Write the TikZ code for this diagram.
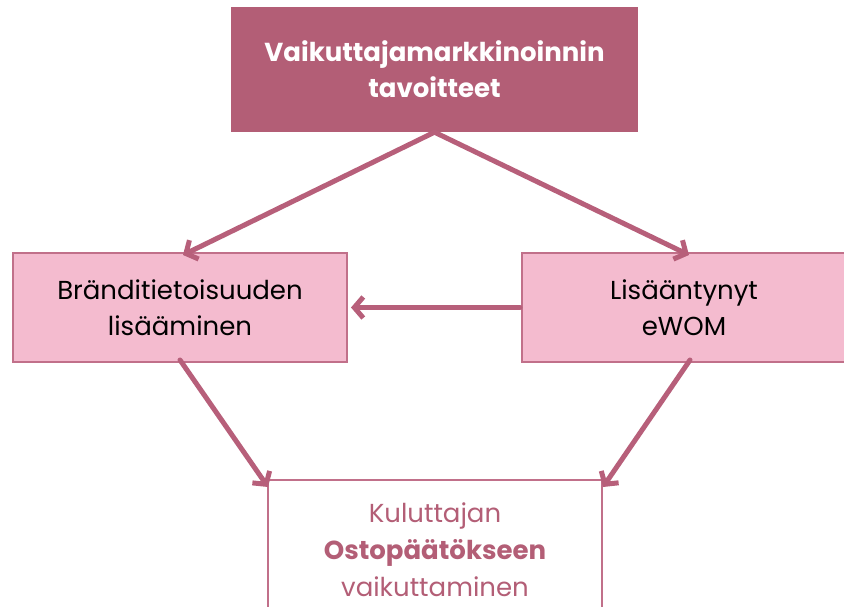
\documentclass[tikz,border=0pt]{standalone}
\usepackage{fontspec}
\setmainfont{Poppins}
\usetikzlibrary{arrows.meta}
\definecolor{rasp}{HTML}{B35E76}
\definecolor{arrowpink}{HTML}{B75F7A}
\definecolor{blush}{HTML}{F4BBCF}
\definecolor{blushline}{HTML}{C1708A}
\begin{document}
\begin{tikzpicture}[x=1pt,y=-1pt,
  goal/.style={fill=rasp,draw=none,text=white,font=\fontsize{26}{36}\selectfont\bfseries,align=center,inner sep=0pt},
  factor/.style={fill=blush,draw=blushline,line width=2pt,text=black,font=\fontsize{26}{36}\selectfont,align=center,inner sep=0pt},
  outcome/.style={fill=white,draw=blushline,line width=2pt,text=rasp,font=\fontsize{26}{37}\selectfont,align=center,inner sep=0pt},
  link/.style={draw=arrowpink,line width=5pt,line cap=round,-{Straight Barb[length=9pt,width=21pt,line width=5pt]}}]
\useasboundingbox (0,0) rectangle (844,607);
% boxes
\node[goal,minimum width=407pt,minimum height=125pt] (goal) at (434.5,69.5)
  {Vaikuttajamarkkinoinnin\\tavoitteet};
\node[factor,minimum width=334pt,minimum height=109pt] (brand) at (180,307.5)
  {Bränditietoisuuden\\lisääminen};
\node[factor,minimum width=324pt,minimum height=109pt] (ewom) at (684,307.5)
  {Lisääntynyt\\eWOM};
\node[outcome,minimum width=334pt,minimum height=140pt] (buy) at (435,550)
  {Kuluttajan\\\textbf{Ostopäätökseen}\\vaikuttaminen};
% connectors
\coordinate (g) at (goal.south);
\draw[link] (g) -- ([xshift=3pt,yshift=-3pt]brand.north);
\draw[link] (g) -- ([xshift=5pt,yshift=-3pt]ewom.north);
\draw[link] ([xshift=-1pt]ewom.west) -- ([xshift=3pt]brand.east);
\draw[link] ([yshift=3pt]brand.south) -- ([xshift=-167pt,yshift=-8pt]buy.north);
\draw[link] ([xshift=6pt,yshift=3pt]ewom.south) -- ([xshift=168pt,yshift=-8pt]buy.north);
\end{tikzpicture}
\end{document}
